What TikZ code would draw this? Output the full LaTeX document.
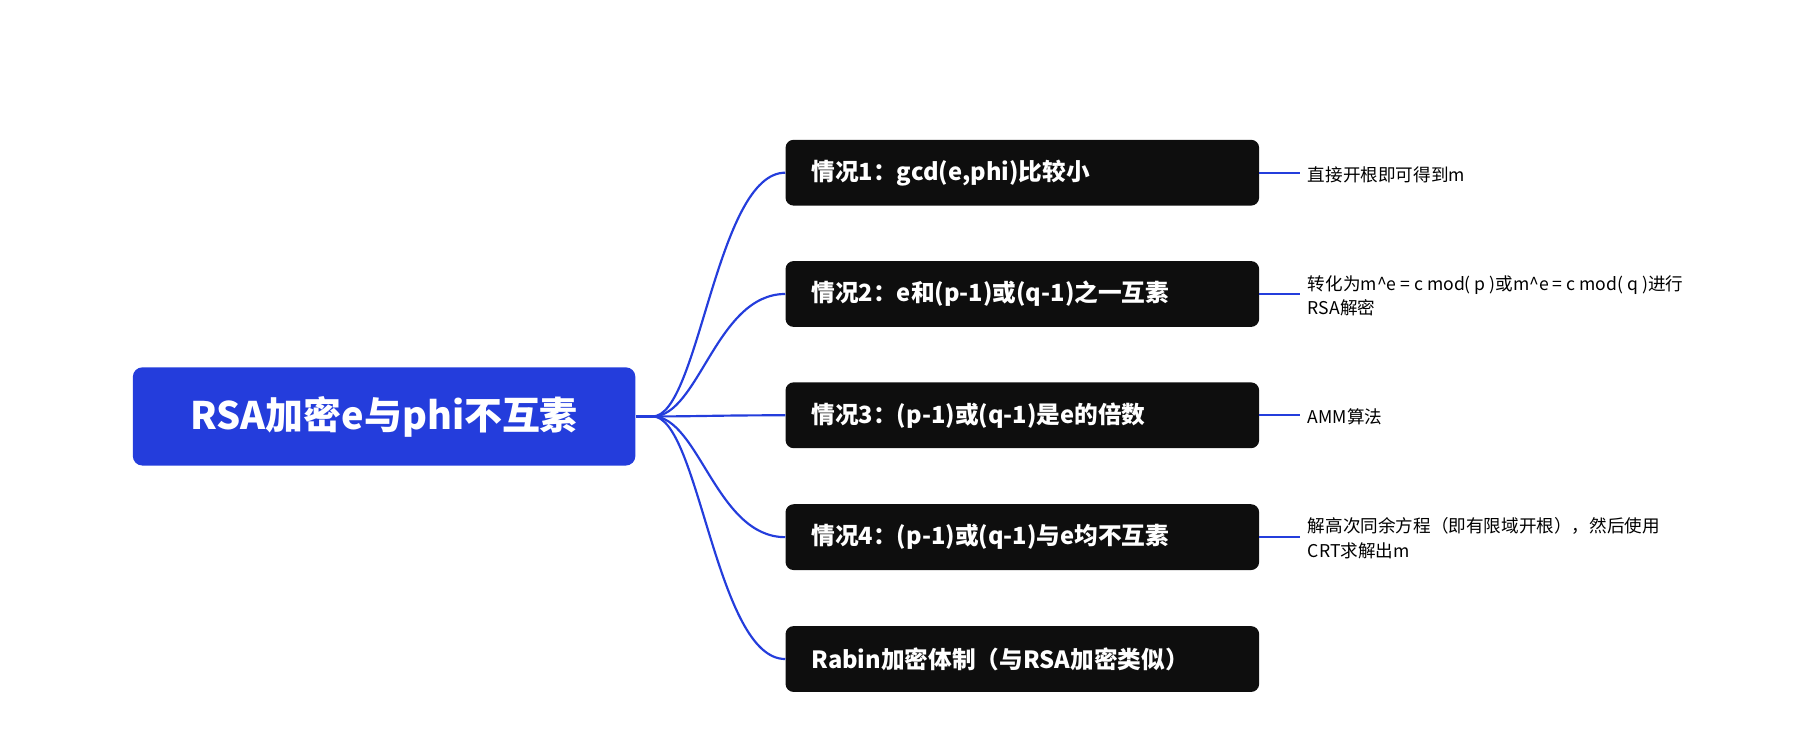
\documentclass[tikz,border=0pt]{standalone}
\usepackage{fontspec}
\setmainfont{Noto Sans CJK SC}
\definecolor{myblue}{RGB}{36,61,220}
\definecolor{myblack}{RGB}{14,14,14}
\usetikzlibrary{positioning}

\begin{document}
\begin{tikzpicture}[
  x=0.03cm, y=-0.03cm,
  link/.style={myblue, line width=1.6pt},
  rootbox/.style={
    fill=myblue,
    rounded corners=7pt,
    minimum width=435*0.03cm,
    minimum height=85*0.03cm,
    text=white,
    font=\fontsize{28}{32}\selectfont\bfseries
    },
  casebox/.style={
    fill=myblack,
    rounded corners=6pt,
    minimum width=410*0.03cm,
    minimum height=57*0.03cm,
    text width=365*0.03cm,
    align=left,
    text=white,
    font=\fontsize{17.5}{20}\selectfont\bfseries
    },
  leaf/.style={
    anchor=west,
    align=left,
    text=black,
    inner sep=0pt,
    font=\fontsize{13}{18}\selectfont
    }
]
\useasboundingbox (0,0) rectangle (1566,654);
\node [rootbox] (root) at (332.5,360.5) {RSA加密e与phi不互素};
\coordinate (hub) at (565,360.5);
\draw [link] (root.east) -- (hub);
% the five cases
\node [casebox] (c1) at (885,149.5) {情况1：gcd(e,phi)比较小};
\node [casebox] (c2) at (885,254.5) {情况2：e和(p-1)或(q-1)之一互素};
\node [casebox] (c3) at (885,359.5) {情况3：(p-1)或(q-1)是e的倍数};
\node [casebox] (c4) at (885,465) {情况4：(p-1)或(q-1)与e均不互素};
\node [casebox] (c5) at (885,570.5) {Rabin加密体制（与RSA加密类似）};
\foreach \c in {c1,c2,c3,c4,c5}
  \draw [link] (hub) .. controls (605,360.5) and (620,0|-\c.west) .. (\c.west);
% notes
\node [leaf] (n1) at (1132,151) {直接开根即可得到m};
\node [leaf] (n2) at (1132,256) {转化为m\^{}e = c mod( p )或m\^{}e = c mod( q )进行\\RSA解密};
\node [leaf] (n3) at (1132,361) {AMM算法};
\node [leaf] (n4) at (1132,466) {解高次同余方程（即有限域开根），然后使用\\CRT求解出m};
\foreach \c/\n in {c1/n1,c2/n2,c3/n3,c4/n4}
  \draw [link] (\c.east) -- (\c.east -| 1125,0);
\end{tikzpicture}
\end{document}
